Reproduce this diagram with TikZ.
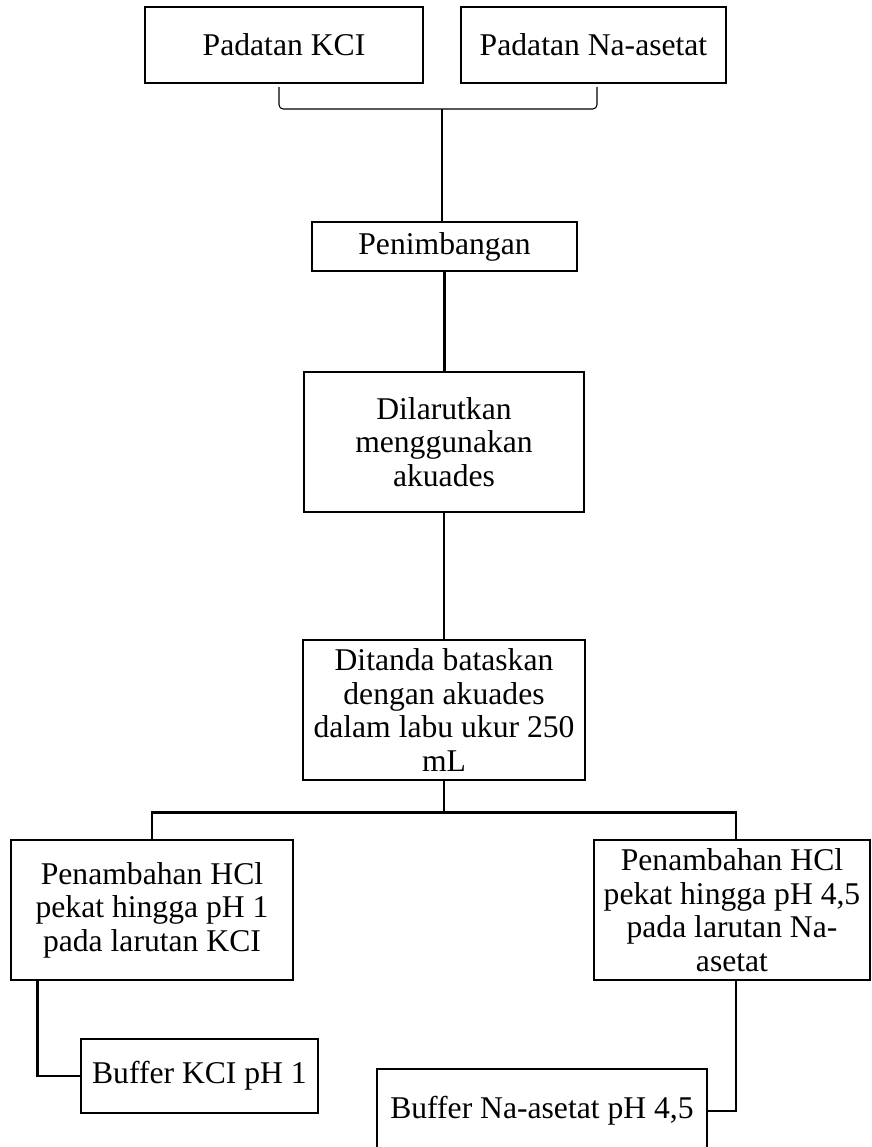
\documentclass[tikz,border=0pt]{standalone}
\usepackage{fontspec}
\setmainfont{Liberation Serif}

\begin{document}
\begin{tikzpicture}[
      x=0.025cm, y=-0.025cm,
      box/.style={draw, line width=2pt, align=center, inner sep=0pt,
                  font=\fontsize{22.5}{23.8}\selectfont},
      link/.style={line width=1.9pt},
      thinlink/.style={line width=0.75pt}
    ]
    \useasboundingbox (0,0) rectangle (871,1147);

    % Starting solids
    \node[box, minimum width=6.95cm, minimum height=1.9cm] (kcl) at (284,45) {Padatan KCI};
    \node[box, minimum width=6.625cm, minimum height=1.9cm] (naac) at (593.5,45) {Padatan Na-asetat};

    % Preparation steps
    \node[box, minimum width=6.625cm, minimum height=1.225cm] (weigh) at (444.5,246.5) {Penimbangan};
    \node[box, minimum width=7cm, minimum height=3.5cm] (dissolve) at (444,442) {Dilarutkan\\menggunakan\\akuades};
    \node[box, minimum width=7.05cm, minimum height=3.5cm] (flask) at (444,710) {Ditanda bataskan\\dengan akuades\\dalam labu ukur 250\\mL};

    % Acid additions
    \node[box, minimum width=7.05cm, minimum height=3.5cm] (hclkcl) at (152,910) {Penambahan HCl\\pekat hingga pH 1\\pada larutan KCI};
    \node[box, minimum width=6.9cm, minimum height=3.5cm] (hclnaac) at (732,910) {Penambahan HCl\\pekat hingga pH 4,5\\pada larutan Na-\\asetat};

    % Buffers
    \node[box, minimum width=5.925cm, minimum height=1.85cm] (bufkcl) at (199.5,1076) {Buffer KCI pH 1};
    \node[box, minimum width=8.25cm, minimum height=2.1cm] (bufnaac) at (542,1111) {Buffer Na-asetat pH 4,5};

    % Bracket joining the solids
    \coordinate (brl) at (279,87);
    \coordinate (brr) at (597,87);
    \coordinate (brm) at (442,109);
    \draw[thinlink, rounded corners=3pt] (brl) |- (brm) -| (brr);
    \draw[thinlink] (brm) -- (brm |- weigh.north);

    % Main line
    \draw[link] (weigh.south) -- (weigh.south |- dissolve.north);
    \draw[thinlink] (dissolve.south) -- (dissolve.south |- flask.north);
    \draw[link] (flask.south) -- ++(0,31) coordinate (split);
    \draw[link] (split) -| (hclkcl.north);
    \draw[link] (split) -| ([xshift=0.1cm]hclnaac.north);

    % To the buffers
    \draw[link] ([xshift=0.7cm]hclkcl.south west) |- (bufkcl.west);
    \draw[link] ([xshift=0.1cm]hclnaac.south) |- (bufnaac.east);

  \end{tikzpicture}
\end{document}
